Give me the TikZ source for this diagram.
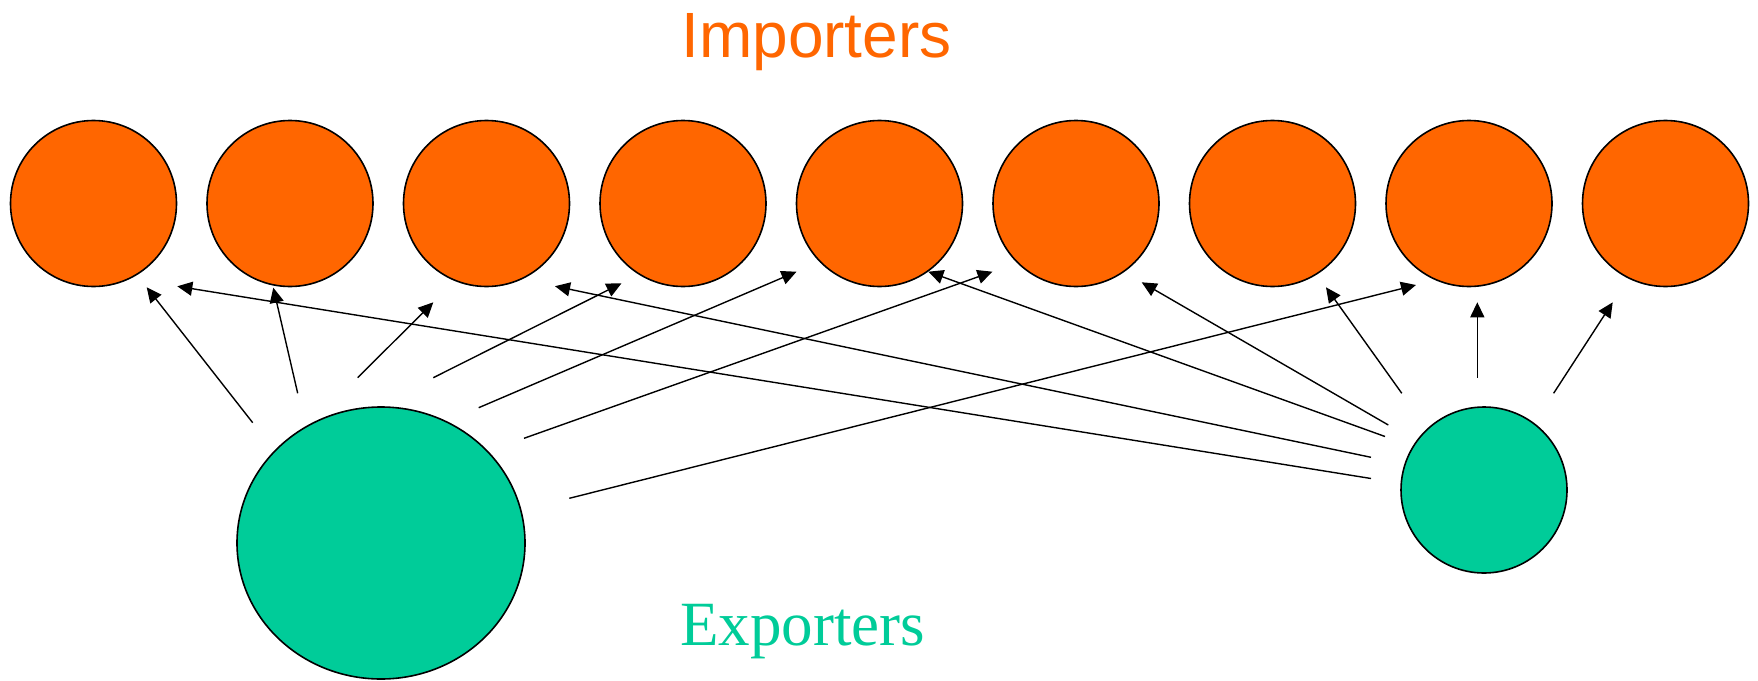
\documentclass[tikz,border=0pt]{standalone}
\usepackage{fontspec}
\setmainfont{Liberation Serif}
\newfontfamily\impfont{Liberation Sans}
\usetikzlibrary{arrows.meta,shapes.geometric}
\definecolor{impcol}{HTML}{FF6600}
\definecolor{expcol}{HTML}{00CC99}
\begin{document}
\begin{tikzpicture}[x=1pt,y=-1pt,
  importer/.style={circle,draw=black,line width=1.6pt,fill=impcol,minimum size=166pt,inner sep=0pt},
  exporter/.style={draw=black,line width=1.6pt,fill=expcol,inner sep=0pt},
  link/.style={line width=1.4pt,-{Triangle[length=15pt,width=14pt]}},
  lbl/.style={anchor=base,inner sep=0pt}]
\useasboundingbox (0,0) rectangle (1758,680);
% importers
\foreach \i in {1,...,9}
  \node[importer] (I\i) at ({93.5+196.5*(\i-1)},203.5) {};
% exporters
\node[exporter,ellipse,minimum width=288pt,minimum height=272pt] (E1) at (381,543) {};
\node[exporter,circle,minimum size=166pt] (E2) at (1484,490) {};
% labels
\node[lbl,text=impcol] (timp) at (816.5,57.3) {\impfont\fontsize{64}{64}\selectfont Importers};
\node[lbl,text=expcol] (texp) at (802.5,645) {\fontsize{63}{63}\selectfont Exporters};
% connector end points
\coordinate (s1) at (252.7,422.7);  \coordinate (t1) at (146.7,287.3);
\coordinate (s2) at (297.7,393.3);  \coordinate (t2) at (273.3,287.7);
\coordinate (s3) at (357.7,377.7);  \coordinate (t3) at (433.3,302.3);
\coordinate (s4) at (433.3,377.7);  \coordinate (t4) at (621.5,283.3);
\coordinate (s5) at (478.7,407.7);  \coordinate (t5) at (796.5,271.7);
\coordinate (s6) at (524,438.3);    \coordinate (t6) at (992.5,271.7);
\coordinate (s7) at (569.3,498.3);  \coordinate (t7) at (1416,285);
\coordinate (s8) at (1371,478.5);   \coordinate (t8) at (177.3,286.3);
\coordinate (s9) at (1371,457.3);   \coordinate (t9) at (555,286.2);
\coordinate (s10) at (1385,436.5);  \coordinate (t10) at (928.3,271.7);
\coordinate (s11) at (1388.3,425);  \coordinate (t11) at (1141.7,282.3);
\coordinate (s12) at (1401.8,393.3);\coordinate (t12) at (1326,287.3);
\coordinate (s13) at (1477.3,377.5);\coordinate (t13) at (1477.3,302.3);
\coordinate (s14) at (1553.6,393.3);\coordinate (t14) at (1612.7,302.3);
\foreach \k in {1,...,14}
  \draw[link] (s\k) -- (t\k);
\end{tikzpicture}
\end{document}
